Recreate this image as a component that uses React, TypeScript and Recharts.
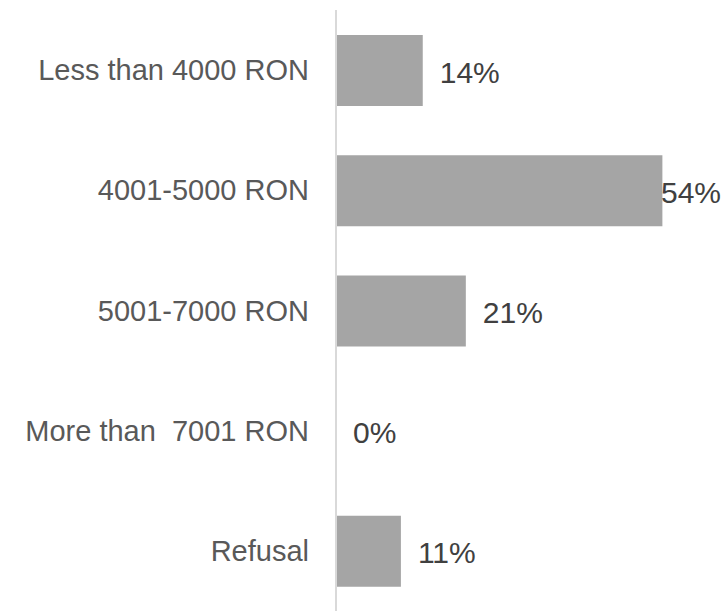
import React from "react";
import { BarChart, Bar, XAxis, YAxis, LabelList } from "recharts";

const categories = [
  "Less than 4000 RON",
  "4001-5000 RON",
  "5001-7000 RON",
  "More than  7001 RON",
  "Refusal",
];
const shares = [14.3, 53.8, 21.4, 0, 10.7];

const data = categories.map((name, i) => ({ name, value: shares[i] }));

const PLOT_RIGHT_LIMIT = 721;

const CategoryTick = (props: any) => {
  const { x, y, payload } = props;
  return (
    <text
      x={x}
      y={y + 10}
      textAnchor="end"
      fill="#595959"
      fontSize={29}
      fontFamily="'Liberation Sans', Arial, sans-serif"
      style={{ whiteSpace: "pre" }}
    >
      {payload.value}
    </text>
  );
};

const ValueLabel = (props: any) => {
  const { x, y, width, height, value } = props;
  const txt = `${Math.round(value)}%`;
  const fs = 30;
  const approxW = txt.length * 0.67 * fs;
  let tx = x + width + 17;
  let anchor: "start" | "end" = "start";
  if (tx + approxW > PLOT_RIGHT_LIMIT) {
    tx = PLOT_RIGHT_LIMIT;
    anchor = "end";
  }
  return (
    <text
      x={tx}
      y={y + height / 2 + 12}
      textAnchor={anchor}
      fill="#404040"
      fontSize={fs}
      fontFamily="'Liberation Sans', Arial, sans-serif"
    >
      {txt}
    </text>
  );
};

export default function App() {
  return (
    <div style={{ position: "absolute", left: 0, top: 0, background: "#fff" }}>
      <BarChart
        width={728}
        height={611}
        data={data}
        layout="vertical"
        margin={{ top: 10, right: 28, bottom: 0, left: 0 }}
      >
        <XAxis type="number" domain={[0, 60]} hide />
        <YAxis
          type="category"
          dataKey="name"
          width={336}
          axisLine={{ stroke: "#d9d9d9", strokeWidth: 2 }}
          tickLine={false}
          tickSize={0}
          tickMargin={27}
          tick={<CategoryTick />}
          interval={0}
        />
        <Bar
          dataKey="value"
          fill="#a5a5a5"
          barSize={71}
          minPointSize={0.1}
          isAnimationActive={false}
        >
          <LabelList dataKey="value" content={<ValueLabel />} />
        </Bar>
      </BarChart>
    </div>
  );
}
